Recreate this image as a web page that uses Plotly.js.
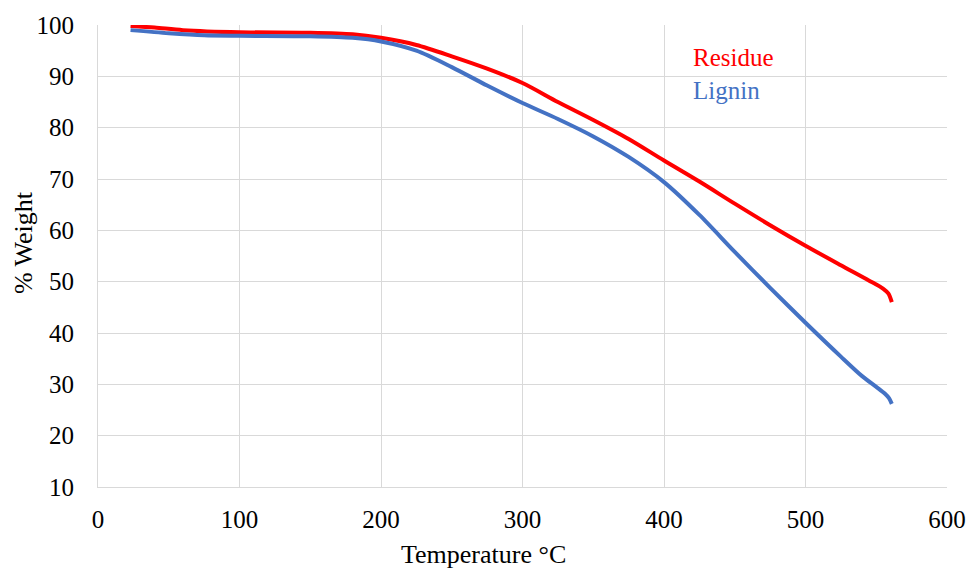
<!DOCTYPE html>
<html><head><meta charset="utf-8">
<script src="https://cdn.plot.ly/plotly-3.0.1.min.js"></script>
<style>html,body{margin:0;padding:0;background:#fff}</style>
</head><body><div id="chart" style="width:974px;height:571px"></div>
<script>
var residueT = [23, 40, 60, 100, 150, 180, 200, 225, 250, 275, 300, 325, 350, 375, 400, 425, 450, 475, 500, 525, 545, 555, 558.5, 561];
var residueW = [99.8, 99.5, 99.0, 98.6, 98.5, 98.2, 97.5, 96.1, 93.9, 91.5, 88.7, 85.0, 81.5, 77.8, 73.6, 69.5, 65.2, 61.0, 57.0, 53.2, 50.2, 48.6, 47.7, 46.0];
var ligninT = [23, 50, 75, 100, 150, 180, 200, 225, 250, 275, 300, 325, 350, 375, 400, 425, 450, 475, 500, 525, 540, 550, 556, 559, 561];
var ligninW = [99.0, 98.4, 98.0, 97.9, 97.8, 97.5, 96.8, 95.0, 91.8, 88.2, 84.8, 81.7, 78.3, 74.3, 69.4, 63.0, 55.8, 48.8, 42.0, 35.4, 31.6, 29.5, 28.2, 27.3, 26.2];
var xTicks = [0, 100, 200, 300, 400, 500, 600];
var yTicks = [10, 20, 30, 40, 50, 60, 70, 80, 90, 100];
var seriesNames = ["Residue", "Lignin"];
var xTitle = 'Temperature °C';
var yTitle = '% Weight';

var font = "'Liberation Serif', 'Times New Roman', serif";
var data = [
  {x: residueT, y: residueW, mode: 'lines', name: seriesNames[0], line: {color: '#FF0000', width: 4, shape: 'spline', smoothing: 0.8}},
  {x: ligninT, y: ligninW, mode: 'lines', name: seriesNames[1], line: {color: '#4472C4', width: 4, shape: 'spline', smoothing: 0.8}}
];
var layout = {
  width: 974, height: 571,
  margin: {l: 98, r: 27, t: 25, b: 84},
  paper_bgcolor: '#fff', plot_bgcolor: '#fff',
  showlegend: false,
  font: {family: font, size: 25, color: '#000'},
  xaxis: {
    range: [0, 600], tickvals: xTicks, ticktext: xTicks.map(String),
    showgrid: true, gridcolor: '#d9d9d9', gridwidth: 1,
    showline: true, linecolor: '#d9d9d9', linewidth: 1, mirror: false,
    zeroline: false, ticks: '', ticklen: 0, ticklabelstandoff: 10,
    tickfont: {family: font, size: 25, color: '#000'},
    automargin: false
  },
  yaxis: {
    range: [10, 100], tickvals: yTicks, ticktext: yTicks.map(String),
    showgrid: true, gridcolor: '#d9d9d9', gridwidth: 1,
    showline: true, linecolor: '#d9d9d9', linewidth: 1,
    zeroline: false, ticks: '', ticklen: 0, ticklabelstandoff: 18,
    tickfont: {family: font, size: 25, color: '#000'},
    automargin: false
  },
  annotations: [
    {x: 419, y: 93.6, xref: 'x', yref: 'y', text: seriesNames[0], showarrow: false, xanchor: 'left', yanchor: 'middle', font: {family: font, size: 25, color: '#FF0000'}},
    {x: 419, y: 87.2, xref: 'x', yref: 'y', text: seriesNames[1], showarrow: false, xanchor: 'left', yanchor: 'middle', font: {family: font, size: 25, color: '#4472C4'}},
    {x: 0.4535, y: -0.147, xref: 'paper', yref: 'paper', text: xTitle, showarrow: false, xanchor: 'center', yanchor: 'middle', font: {family: font, size: 26, color: '#000'}},
    {x: -0.0883, y: 0.528, xref: 'paper', yref: 'paper', text: yTitle, textangle: -90, showarrow: false, xanchor: 'center', yanchor: 'middle', font: {family: font, size: 26, color: '#000'}}
  ]
};
Plotly.newPlot('chart', data, layout, {displayModeBar: false, staticPlot: true});
</script></body></html>
